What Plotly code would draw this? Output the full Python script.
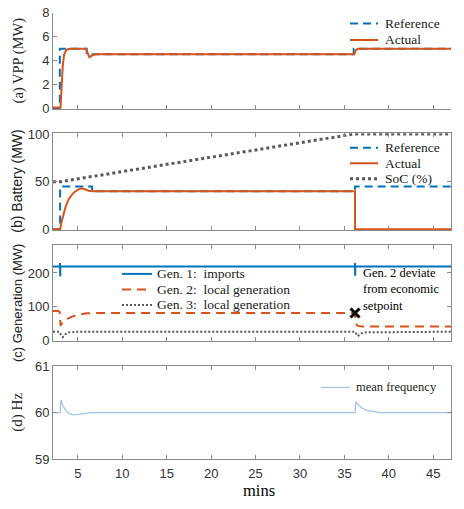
import plotly.graph_objects as go

W, H = 464, 509

# ---------------- data ----------------
t_vpp_ref = [2.2, 2.97, 2.97, 6.0, 6.0, 36.05, 36.05, 47]
vpp_ref = [0, 0, 5.0, 5.0, 4.55, 4.55, 5.0, 5.0]
t_vpp_act = [2.2, 3.05, 3.15, 3.3, 3.45, 3.6, 3.8, 4.1, 5.9, 6.1, 6.3, 6.6, 7.0, 7.5, 36.1, 36.3, 36.5, 47]
vpp_act = [0.12, 0.12, 1.5, 3.6, 4.5, 4.8, 4.95, 5.0, 5.0, 4.7, 4.3, 4.45, 4.55, 4.55, 4.55, 4.9, 5.0, 5.0]

t_bat_ref = [2.2, 3.0, 3.0, 6.6, 6.6, 36.2, 36.2, 47]
bat_ref = [0, 0, 45, 45, 40, 40, 45, 45]
t_bat_act = [2.2, 3.0, 3.2, 3.4, 3.6, 3.8, 4.0, 4.3, 4.6, 5.0, 5.4, 5.8, 6.2, 6.6, 36.2, 36.2, 47]
bat_act = [0, 0, 9, 17, 23, 28, 32, 36, 39, 41.5, 43, 42, 40.5, 40, 40, 0, 0]
t_soc = [2.2, 3.0, 36.0, 47]
soc = [50, 50, 100, 100]

t_g1 = [2.2, 2.98, 2.98, 3.02, 3.02, 36.18, 36.18, 36.22, 36.22, 47]
g1 = [219, 219, 229, 190, 219, 219, 229, 192, 219, 219]
t_g2 = [2.2, 2.8, 2.95, 3.05, 3.3, 3.7, 4.2, 5.0, 6.0, 7.0, 36.2, 36.25, 36.5, 37.0, 47]
g2 = [88, 88, 85, 45, 55, 63, 70, 77, 81, 82, 82, 52, 44, 42, 42]
t_g3 = [2.2, 2.9, 3.1, 3.3, 3.6, 4.0, 5.0, 36.2, 36.5, 36.9, 37.5, 47]
g3 = [27, 27, 18, 11, 20, 25, 27, 27, 14, 22, 25, 27]
mark_t = [36.2]
mark_g = [82]

t_f = [2.2, 3.0, 3.1, 3.3, 3.6, 4.0, 4.5, 5.0, 5.5, 6.0, 6.5, 36.2, 36.3, 36.6, 37.0, 37.5, 38.0, 38.5, 39.0, 47]
freq = [60, 60, 60.27, 60.16, 60.06, 59.98, 59.95, 59.96, 59.97, 59.99, 60.0, 60.0, 60.24, 60.16, 60.1, 60.05, 60.03, 60.01, 60.0, 60.0]

x_ticks = [5, 10, 15, 20, 25, 30, 35, 40, 45]

# ---------------- styling ----------------
BLUE = "#0072BD"
ORANGE = "#D95319"
GRAY = "#5a5a5a"
LBLUE = "#9fc2e8"
AX = "#8a8a8a"
SERIF = "Liberation Serif"
SANS = "Liberation Sans"

REF_LINE = dict(color=BLUE, width=2, dash="8px,5px")
ACT_LINE = dict(color=ORANGE, width=2)
SOC_LINE = dict(color=GRAY, width=3, dash="3px,3px")
G1_LINE = dict(color=BLUE, width=2)
G2_LINE = dict(color=ORANGE, width=2, dash="9px,6px")
G3_LINE = dict(color=GRAY, width=2, dash="2px,2px")
F_LINE = dict(color=LBLUE, width=1.2)


def px(x):
    return x / W


def py(y):
    return 1 - y / H


fig = go.Figure()

fig.add_trace(go.Scatter(x=t_vpp_ref, y=vpp_ref, mode="lines", name="Reference", line=REF_LINE, xaxis="x", yaxis="y"))
fig.add_trace(go.Scatter(x=t_vpp_act, y=vpp_act, mode="lines", name="Actual", line=ACT_LINE, xaxis="x", yaxis="y"))

fig.add_trace(go.Scatter(x=t_bat_ref, y=bat_ref, mode="lines", name="Reference", line=REF_LINE, xaxis="x2", yaxis="y2"))
fig.add_trace(go.Scatter(x=t_bat_act, y=bat_act, mode="lines", name="Actual", line=ACT_LINE, xaxis="x2", yaxis="y2"))
fig.add_trace(go.Scatter(x=t_soc, y=soc, mode="lines", name="SoC (%)", line=SOC_LINE, xaxis="x2", yaxis="y2"))

fig.add_trace(go.Scatter(x=t_g1, y=g1, mode="lines", name="Gen. 1: imports", line=G1_LINE, xaxis="x3", yaxis="y3"))
fig.add_trace(go.Scatter(x=t_g2, y=g2, mode="lines", name="Gen. 2: local generation", line=G2_LINE, xaxis="x3", yaxis="y3"))
fig.add_trace(go.Scatter(x=t_g3, y=g3, mode="lines", name="Gen. 3: local generation", line=G3_LINE, xaxis="x3", yaxis="y3"))
fig.add_trace(go.Scatter(x=mark_t, y=mark_g, mode="markers",
                         marker=dict(symbol="x-thin", size=9, color="black", line=dict(width=3, color="black")),
                         xaxis="x3", yaxis="y3"))

fig.add_trace(go.Scatter(x=t_f, y=freq, mode="lines", name="mean frequency", line=F_LINE, xaxis="x4", yaxis="y4"))

XD = [px(53), px(451)]
doms = [(6, 105), (130, 230), (245, 344), (370, 466)]
yranges = [[0, 8], [-1, 101], [0, 283], [59, 61]]
yticks = [[0, 2, 4, 6, 8], [0, 50, 100], [0, 100, 200], [59, 60, 61]]

layout = dict(width=W, height=H, margin=dict(l=0, r=0, t=0, b=0),
              paper_bgcolor="white", plot_bgcolor="white", showlegend=False)

for i in range(4):
    s = "" if i == 0 else str(i + 1)
    mirror = False if i == 0 else "ticks"
    layout["xaxis" + s] = dict(domain=XD, anchor="y" + s, range=[2.2, 47], tickvals=x_ticks,
                               showticklabels=(i == 3), ticks="inside", ticklen=4, tickcolor=AX,
                               showline=True, linecolor=AX, linewidth=1, mirror=mirror,
                               showgrid=False, zeroline=False, ticklabelstandoff=2,
                               tickfont=dict(family=SANS, size=13, color="#333333"))
    layout["yaxis" + s] = dict(domain=[py(doms[i][1]), py(doms[i][0])], anchor="x" + s,
                               range=yranges[i], tickvals=yticks[i],
                               ticks="inside", ticklen=4, tickcolor=AX,
                               showline=True, linecolor=AX, linewidth=1, mirror=mirror,
                               showgrid=False, zeroline=False,
                               tickfont=dict(family=SANS, size=13, color="#333333"))

# ---------------- legend boxes (drawn as line samples + text) ----------------
legend_rows = [
    # (sample x0, sample x1, text x, row y, line style, label, font size)
    (350, 378, 383, 17, REF_LINE, "Reference", 13.5),
    (350, 378, 383, 34, ACT_LINE, "Actual", 13.5),
    (350, 378, 383, 145, REF_LINE, "Reference", 13.5),
    (350, 378, 383, 161, ACT_LINE, "Actual", 13.5),
    (350, 378, 383, 177, SOC_LINE, "SoC (%)", 13.5),
    (122, 152, 155, 275, G1_LINE, "Gen. 1:\u00a0\u00a0imports", 13.5),
    (122, 152, 155, 291, G2_LINE, "Gen. 2:\u00a0\u00a0local generation", 13.5),
    (122, 152, 155, 307, G3_LINE, "Gen. 3:\u00a0\u00a0local generation", 13.5),
    (321, 350, 354, 392, F_LINE, "mean frequency", 12.5),
]

shapes = []
annotations = []
for x0, x1, tx, yy, ls, label, fs in legend_rows:
    shapes.append(dict(type="line", xref="paper", yref="paper", x0=px(x0), x1=px(x1), y0=py(yy), y1=py(yy),
                       line=ls))
    annotations.append(dict(text=label, x=px(tx), y=py(yy), xref="paper", yref="paper", showarrow=False,
                            xanchor="left", yanchor="middle", font=dict(family=SERIF, size=fs, color="#222222")))

ytitles = [
    ("(a) VPP (MW)", 18, 55, SERIF, 14.5),
    ("(b) Battery (MW)", 17, 180, SANS, 14),
    ("(c) Generation (MW)", 17, 305, SANS, 13),
    ("(d) Hz", 18, 418, SERIF, 15),
]
for txt, xx, yy, fam, fs in ytitles:
    annotations.append(dict(text=txt, x=px(xx), y=py(yy), xref="paper", yref="paper", showarrow=False,
                            textangle=-90, xanchor="center", yanchor="middle",
                            font=dict(family=fam, size=fs, color="#222222")))

annotations.append(dict(text="Gen. 2 deviate<br>from economic<br>setpoint", x=px(361), y=py(291),
                        xref="paper", yref="paper", showarrow=False, align="left",
                        xanchor="left", yanchor="middle", font=dict(family=SERIF, size=12.5, color="black")))
annotations.append(dict(text="mins", x=px(259), y=0, xref="paper", yref="paper", showarrow=False,
                        xanchor="center", yanchor="bottom", borderpad=0,
                        font=dict(family=SERIF, size=16.5, color="black")))

layout["shapes"] = shapes
layout["annotations"] = annotations

fig.update_layout(**layout)
fig.write_html("out.html")
